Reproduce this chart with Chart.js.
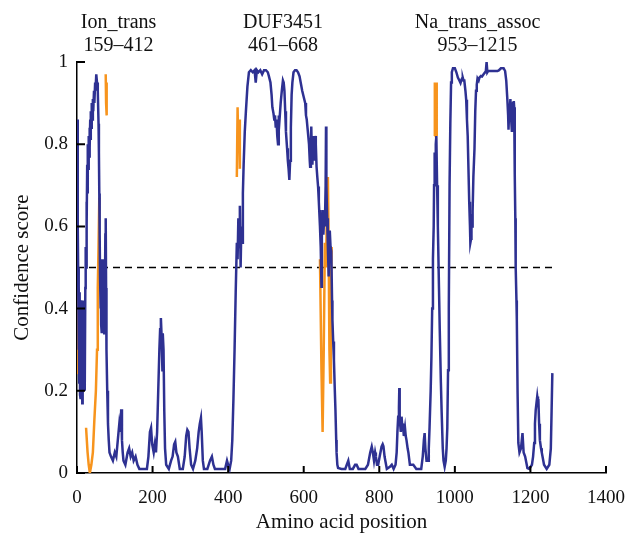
<!DOCTYPE html>
<html>
<head>
<meta charset="utf-8">
<script src="https://cdn.jsdelivr.net/npm/chart.js@4.4.1/dist/chart.umd.min.js"></script>
<style>
  html, body { margin: 0; padding: 0; background: #fff; }
  #wrap { width: 639px; height: 533px; }
</style>
</head>
<body>
<div id="wrap"><canvas id="scoreChart" width="639" height="533"></canvas></div>
<script>
// Domain annotations shown above the plot
const domainNames = ['Ion_trans', 'DUF3451', 'Na_trans_assoc'];
const domainRanges = ['159–412', '461–668', '953–1215'];

const xTicks = [0, 200, 400, 600, 800, 1000, 1200, 1400];
const yTicks = [0, 0.2, 0.4, 0.6, 0.8, 1];

const threshold = 0.5;
const thresholdEnd = 1258;

// Confidence score trace [amino acid position, score]
const blueTrace = [
  [1,0.86],[2,0.60],[3,0.50],[4,0.30],[5,0.46],[6,0.22],[7,0.44],[8,0.19],[9,0.40],[10,0.18],
  [11,0.42],[12,0.20],[13,0.38],[14,0.17],[15,0.35],[16,0.24],[17,0.30],[18,0.42],[19,0.25],[20,0.38],
  [21,0.20],[22,0.45],[23,0.55],[24,0.50],[25,0.66],[26,0.60],[27,0.75],[28,0.68],[29,0.80],[30,0.74],
  [31,0.82],[32,0.77],[33,0.84],[34,0.79],[35,0.86],[36,0.81],[37,0.88],[38,0.84],[39,0.90],[40,0.86],
  [42,0.91],[43,0.88],[45,0.93],[46,0.90],[48,0.95],[49,0.93],[51,0.97],[53,0.95],[55,0.93],[57,0.85],
  [58,0.78],[59,0.68],[60,0.58],[61,0.48],[62,0.40],[63,0.52],[64,0.36],[65,0.50],[66,0.34],[67,0.48],
  [68,0.38],[69,0.52],[70,0.40],[71,0.47],[72,0.34],[73,0.50],[74,0.38],[75,0.58],[76,0.62],[77,0.45],
  [78,0.30],[80,0.20],[82,0.12],[84,0.08],[86,0.05],[90,0.04],[95,0.03],[100,0.05],[104,0.04],[108,0.08],
  [112,0.12],[115,0.10],[117,0.155],[119,0.08],[121,0.05],[123,0.03],[128,0.02],[134,0.05],[138,0.06],[142,0.04],
  [146,0.05],[150,0.03],[155,0.04],[160,0.02],[165,0.01],[175,0.01],[185,0.01],[189,0.04],[193,0.10],[196,0.11],
  [199,0.07],[203,0.05],[206,0.07],[209,0.05],[212,0.10],[215,0.20],[218,0.30],[220,0.35],[222,0.377],[224,0.33],
  [226,0.25],[227,0.34],[229,0.30],[231,0.15],[233,0.06],[236,0.02],[243,0.01],[249,0.03],[253,0.04],[257,0.07],
  [260,0.076],[263,0.05],[267,0.04],[272,0.01],[280,0.01],[285,0.04],[289,0.09],[292,0.105],[295,0.10],[298,0.06],
  [302,0.02],[307,0.01],[313,0.03],[318,0.06],[322,0.10],[325,0.12],[328,0.134],[330,0.10],[333,0.03],[336,0.01],
  [345,0.01],[352,0.03],[357,0.04],[361,0.02],[365,0.01],[380,0.01],[392,0.01],[397,0.03],[400,0.02],[404,0.01],
  [408,0.03],[411,0.08],[414,0.18],[417,0.30],[420,0.44],[423,0.56],[425,0.52],[427,0.62],[429,0.55],[431,0.65],
  [433,0.50],[435,0.60],[437,0.56],[439,0.68],[441,0.75],[444,0.83],[447,0.88],[451,0.94],[455,0.975],[460,0.98],
  [465,0.975],[470,0.98],[473,0.95],[476,0.98],[480,0.975],[485,0.98],[490,0.97],[495,0.98],[500,0.98],[505,0.975],
  [508,0.965],[512,0.95],[515,0.92],[517,0.89],[520,0.875],[522,0.86],[524,0.87],[526,0.84],[528,0.86],[530,0.82],
  [532,0.80],[534,0.87],[536,0.86],[539,0.90],[542,0.93],[545,0.955],[547,0.95],[549,0.93],[551,0.88],[553,0.83],
  [556,0.79],[558,0.76],[560,0.74],[562,0.713],[564,0.76],[566,0.84],[568,0.92],[570,0.95],[573,0.975],[577,0.98],
  [581,0.98],[585,0.975],[589,0.965],[592,0.95],[596,0.93],[600,0.915],[604,0.90],[606,0.87],[608,0.86],[610,0.84],
  [612,0.82],[614,0.80],[616,0.76],[617,0.745],[619,0.80],[620,0.843],[622,0.76],[623,0.75],[625,0.82],[626,0.80],
  [628,0.76],[630,0.82],[632,0.80],[634,0.745],[636,0.72],[638,0.697],[640,0.66],[641,0.64],[643,0.60],[645,0.55],
  [647,0.453],[648,0.60],[650,0.64],[652,0.58],[654,0.62],[656,0.60],[658,0.70],[659,0.843],[660,0.70],[662,0.62],
  [664,0.55],[666,0.478],[668,0.56],[669,0.59],[671,0.55],[673,0.54],[675,0.42],[676,0.372],[678,0.32],[680,0.275],
  [682,0.21],[684,0.153],[686,0.08],[687,0.049],[689,0.02],[691,0.012],[700,0.01],[710,0.01],[714,0.02],[718,0.03],
  [722,0.01],[730,0.01],[736,0.02],[740,0.02],[745,0.01],[763,0.01],[770,0.02],[776,0.05],[780,0.064],[783,0.05],
  [786,0.03],[789,0.05],[791,0.04],[794,0.02],[797,0.02],[801,0.04],[806,0.064],[809,0.07],[811,0.065],[814,0.04],
  [816,0.03],[820,0.01],[828,0.015],[833,0.02],[838,0.01],[843,0.02],[846,0.05],[848,0.10],[850,0.137],[852,0.16],
  [853,0.207],[854,0.14],[855,0.12],[857,0.10],[859,0.137],[861,0.11],[863,0.113],[865,0.09],[868,0.11],[870,0.09],
  [872,0.08],[875,0.06],[877,0.05],[881,0.02],[890,0.02],[898,0.01],[911,0.01],[915,0.04],[918,0.08],[920,0.097],
  [922,0.06],[925,0.03],[929,0.03],[931,0.06],[933,0.11],[936,0.20],[938,0.283],[940,0.40],[942,0.52],[944,0.60],
  [945,0.70],[946,0.737],[947,0.78],[948,0.75],[949,0.72],[950,0.80],[951,0.82],[953,0.70],[955,0.60],[958,0.45],
  [960,0.35],[963,0.22],[965,0.15],[968,0.06],[970,0.03],[973,0.015],[976,0.03],[978,0.06],[980,0.11],[982,0.25],
  [984,0.40],[986,0.70],[988,0.85],[990,0.95],[992,0.975],[995,0.985],[1000,0.985],[1004,0.975],[1008,0.962],[1012,0.955],
  [1015,0.949],[1017,0.955],[1019,0.96],[1021,0.962],[1023,0.955],[1025,0.955],[1028,0.93],[1030,0.908],[1032,0.86],[1034,0.82],
  [1036,0.74],[1038,0.66],[1040,0.60],[1041,0.56],[1043,0.57],[1044,0.63],[1046,0.60],[1047,0.637],[1049,0.72],[1052,0.79],
  [1054,0.88],[1056,0.93],[1058,0.945],[1060,0.96],[1063,0.955],[1065,0.962],[1069,0.966],[1072,0.965],[1076,0.97],[1080,0.975],
  [1082,0.978],[1084,1.0],[1086,0.975],[1088,0.978],[1095,0.978],[1104,0.978],[1110,0.978],[1113,0.978],[1117,0.98],[1122,0.985],
  [1129,0.985],[1133,0.978],[1136,0.955],[1139,0.908],[1141,0.87],[1142,0.835],[1144,0.89],[1145,0.88],[1147,0.91],[1149,0.86],
  [1151,0.83],[1152,0.87],[1154,0.90],[1156,0.905],[1157,0.89],[1158,0.80],[1159,0.727],[1160,0.62],[1161,0.50],[1163,0.42],
  [1164,0.372],[1166,0.195],[1168,0.073],[1171,0.05],[1175,0.06],[1179,0.097],[1182,0.05],[1186,0.04],[1192,0.012],[1197,0.01],
  [1204,0.02],[1207,0.04],[1210,0.073],[1212,0.12],[1214,0.153],[1216,0.17],[1218,0.186],[1220,0.17],[1221,0.18],[1223,0.12],
  [1225,0.08],[1228,0.06],[1230,0.05],[1236,0.02],[1243,0.01],[1250,0.02],[1254,0.06],[1256,0.15],[1258,0.243]
];

// Orange highlighted pieces of the trace
const orangeSegments = [
  [[0,0.69],[1,0.55],[2,0.42],[3,0.24]],
  [[24,0.11],[28,0.05],[31,0.02],[34,0.0],[38,0.02],[42,0.05],[46,0.13],[50,0.2],[53,0.3],[55,0.45],[57,0.55],[59,0.67]],
  [[76,0.97],[77,0.90],[78,0.95],[79,0.87]],
  [[423,0.72],[425,0.89],[427,0.78],[429,0.86],[431,0.74]],
  [[643,0.52],[647,0.25],[650,0.10],[653,0.30],[656,0.56],[659,0.50],[662,0.68],[664,0.72],[666,0.55],[668,0.30],[670,0.22],[672,0.45],[674,0.55]],
  [[946,0.82],[947,0.95],[949,0.93],[951,0.95],[952,0.82]]
];

const serif = '"Liberation Serif", "DejaVu Serif", serif';

const bluePoints = blueTrace.map(p => ({ x: p[0], y: p[1] }));
const orangePoints = [];
orangeSegments.forEach((seg, i) => {
  if (i > 0) orangePoints.push({ x: seg[0][0] - 0.5, y: null });
  seg.forEach(p => orangePoints.push({ x: p[0], y: p[1] }));
});

// ticks drawn inward, plus the domain labels on top
const extrasPlugin = {
  id: 'extras',
  afterDraw(chart) {
    const ctx = chart.ctx;
    const xs = chart.scales.x;
    const ys = chart.scales.y;
    const area = chart.chartArea;
    ctx.save();
    ctx.strokeStyle = '#000';
    ctx.lineWidth = 2;
    ctx.beginPath();
    xTicks.forEach(v => {
      const px = xs.getPixelForValue(v);
      ctx.moveTo(px, area.bottom);
      ctx.lineTo(px, area.bottom - 7);
    });
    yTicks.forEach(v => {
      const py = ys.getPixelForValue(v);
      ctx.moveTo(area.left, py);
      ctx.lineTo(area.left + 8, py);
    });
    ctx.stroke();

    const centers = [110, 545, 1060];
    ctx.fillStyle = '#111';
    ctx.font = '20px ' + serif;
    ctx.textAlign = 'center';
    ctx.textBaseline = 'middle';
    domainNames.forEach((name, i) => {
      const px = xs.getPixelForValue(centers[i]);
      ctx.fillText(name, px, 23);
      ctx.fillText(domainRanges[i], px, 46);
    });
    ctx.restore();
  }
};

new Chart(document.getElementById('scoreChart').getContext('2d'), {
  type: 'line',
  data: {
    datasets: [
      {
        label: 'Score',
        data: bluePoints,
        borderColor: '#2e3192',
        borderWidth: 2.5,
        pointRadius: 0,
        tension: 0
      },
      {
        label: 'Highlighted',
        data: orangePoints,
        borderColor: '#f7941d',
        borderWidth: 2.5,
        pointRadius: 0,
        tension: 0,
        spanGaps: false
      },
      {
        label: 'Threshold',
        data: [{ x: 0, y: threshold }, { x: thresholdEnd, y: threshold }],
        borderColor: '#000',
        borderWidth: 1.5,
        borderDash: [7, 5],
        pointRadius: 0
      }
    ]
  },
  options: {
    responsive: false,
    animation: false,
    layout: { padding: { left: 0, right: 30, top: 62, bottom: 0 } },
    plugins: {
      legend: { display: false },
      tooltip: { enabled: false }
    },
    scales: {
      x: {
        type: 'linear',
        min: 0,
        max: 1400,
        afterFit: scale => { scale.height = 60; },
        afterBuildTicks: scale => { scale.ticks = xTicks.map(v => ({ value: v })); },
        grid: { display: true, drawOnChartArea: false, drawTicks: false },
        border: { color: '#000', width: 1.5 },
        ticks: {
          color: '#111',
          padding: 14,
          maxRotation: 0,
          font: { family: serif, size: 19 },
          callback: v => String(v)
        },
        title: {
          display: true,
          text: 'Amino acid position',
          color: '#111',
          padding: { top: 0, bottom: -2 },
          font: { family: serif, size: 21 }
        }
      },
      y: {
        min: 0,
        max: 1,
        afterFit: scale => { scale.width = 77; },
        afterBuildTicks: scale => { scale.ticks = yTicks.map(v => ({ value: v })); },
        grid: { display: true, drawOnChartArea: false, drawTicks: false },
        border: { color: '#000', width: 1.5 },
        ticks: {
          color: '#111',
          padding: 9,
          font: { family: serif, size: 19 },
          callback: v => String(Math.round(v * 10) / 10)
        },
        title: {
          display: true,
          text: 'Confidence score',
          color: '#111',
          padding: { top: 10, bottom: 0 },
          font: { family: serif, size: 21 }
        }
      }
    }
  },
  plugins: [extrasPlugin]
});
</script>
</body>
</html>
